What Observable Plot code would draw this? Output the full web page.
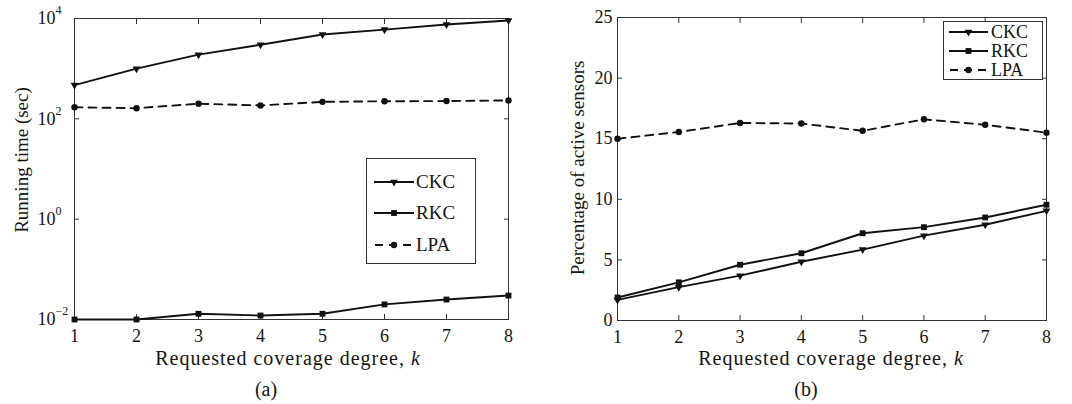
<!DOCTYPE html>
<html><head><meta charset="utf-8">
<script src="https://cdn.jsdelivr.net/npm/d3@7"></script>
<script src="https://cdn.jsdelivr.net/npm/@observablehq/plot@0.6"></script>
<style>
body{margin:0;background:#fff;font-family:"Liberation Serif","DejaVu Serif","Times New Roman",serif;color:#151515}
#wrap{position:relative;width:1072px;height:404px;overflow:hidden;background:#fff}
.panel{position:absolute;top:0}
.lbl{position:absolute;white-space:nowrap;transform:translate(-50%,-50%);font-size:20px;line-height:1}
.xl{letter-spacing:1px}
.ylbl{position:absolute;white-space:nowrap;transform:translate(-50%,-50%) rotate(-90deg);font-size:19px;line-height:1}
.legend{position:absolute;border:1px solid #333;background:#fff;box-sizing:border-box}
.row{position:absolute;left:0;height:18px;transform:translateY(-50%)}
.row svg{position:absolute;top:2px}
.row span{position:absolute;top:0;line-height:18px}
</style></head><body><div id="wrap"></div>
<script>
// ---- data ----
const k = [1, 2, 3, 4, 5, 6, 7, 8];
const seriesNames = ["CKC", "RKC", "LPA"];
const timeCKC = [470, 1000, 1900, 3000, 4800, 6000, 7600, 9100];
const timeRKC = [0.010, 0.010, 0.013, 0.012, 0.013, 0.020, 0.025, 0.030];
const timeLPA = [170, 163, 200, 185, 218, 224, 226, 233];
const pctCKC = [1.7, 2.75, 3.7, 4.85, 5.85, 7.0, 7.9, 9.05];
const pctRKC = [1.9, 3.15, 4.6, 5.55, 7.2, 7.7, 8.5, 9.55];
const pctLPA = [15.0, 15.55, 16.3, 16.25, 15.65, 16.6, 16.15, 15.5];
const logTicks = [1e-2, 1e0, 1e2, 1e4];
const logExponents = ["\u22122", "0", "2", "4"];
const linTicks = [0, 5, 10, 15, 20, 25];
const xLabelText = "Requested coverage degree, ";
const yLabelA = "Running time (sec)";
const yLabelB = "Percentage of active sensors";
const captions = ["(a)", "(b)"];

// ---- styles ----
const styles = {
  CKC: {dash: null, symbol: "triangle", r: 2.9, rotate: 180},
  RKC: {dash: null, symbol: "square", r: 3.3, rotate: 0},
  LPA: {dash: "8,6", symbol: "circle", r: 3.2, rotate: 0}
};
const font = {fontFamily: "'Liberation Serif', 'DejaVu Serif', serif", fontSize: "18px", color: "#151515", background: "white", overflow: "visible"};

function seriesMarks(vals) {
  const marks = [];
  seriesNames.forEach((s, i) => {
    const rows = k.map((x, j) => ({k: x, v: vals[i][j]}));
    const st = styles[s];
    marks.push(Plot.line(rows, {x: "k", y: "v", stroke: "#111", strokeWidth: 1.9, strokeDasharray: st.dash}));
    marks.push(Plot.dot(rows, {x: "k", y: "v", symbol: st.symbol, r: st.r, rotate: st.rotate, fill: "#111", stroke: "none"}));
  });
  return marks;
}

const tickStyle = {stroke: "#333", strokeWidth: 1};

const plotA = Plot.plot({
  width: 536, height: 404,
  marginLeft: 74, marginRight: 28, marginTop: 18, marginBottom: 85,
  style: font,
  x: {domain: [1, 8]},
  y: {type: "log", domain: [1e-2, 1e4]},
  marks: [
    Plot.frame({stroke: "#333"}),
    Plot.axisX({ticks: k, tickSize: -5, tickPadding: 15, tickFormat: d => d, label: null, ...tickStyle}),
    Plot.axisX({anchor: "top", ticks: k, tickSize: -5, tickFormat: () => "", label: null, ...tickStyle}),
    Plot.axisY({ticks: logTicks, tickSize: -5, tickFormat: () => "", label: null, ...tickStyle}),
    Plot.axisY({anchor: "right", ticks: logTicks, tickSize: -5, tickFormat: () => "", label: null, ...tickStyle}),
    Plot.text(logTicks, {y: d => d, text: () => "10", frameAnchor: "left", textAnchor: "start", dx: -37, fill: "#151515"}),
    Plot.text(logTicks, {y: d => d, text: (d, i) => logExponents[i], frameAnchor: "left", textAnchor: "start", dx: -19, dy: -8, fontSize: 12, fill: "#151515"}),
    ...seriesMarks([timeCKC, timeRKC, timeLPA])
  ]
});

const plotB = Plot.plot({
  width: 536, height: 404,
  marginLeft: 81, marginRight: 26, marginTop: 17, marginBottom: 84,
  style: font,
  x: {domain: [1, 8]},
  y: {domain: [0, 25]},
  marks: [
    Plot.frame({stroke: "#333"}),
    Plot.axisX({ticks: k, tickSize: -5, tickPadding: 15, tickFormat: d => d, label: null, ...tickStyle}),
    Plot.axisX({anchor: "top", ticks: k, tickSize: -5, tickFormat: () => "", label: null, ...tickStyle}),
    Plot.axisY({ticks: linTicks, tickSize: -5, tickPadding: 10, tickFormat: d => d, label: null, ...tickStyle}),
    Plot.axisY({anchor: "right", ticks: linTicks, tickSize: -5, tickFormat: () => "", label: null, ...tickStyle}),
    ...seriesMarks([pctCKC, pctRKC, pctLPA])
  ]
});

const wrap = document.getElementById("wrap");
plotA.classList.add("panel"); plotA.style.left = "0px";
plotB.classList.add("panel"); plotB.style.left = "536px";
wrap.appendChild(plotA); wrap.appendChild(plotB);

function addDiv(cls, html, x, y) {
  const d = document.createElement("div");
  d.className = cls; d.innerHTML = html;
  d.style.left = x + "px"; d.style.top = y + "px";
  wrap.appendChild(d); return d;
}
addDiv("lbl xl", xLabelText + "<i>k</i>", 288, 358);
addDiv("lbl xl", xLabelText + "<i>k</i>", 831, 358);
addDiv("lbl", captions[0], 266, 389);
addDiv("lbl", captions[1], 806, 389);
addDiv("ylbl", yLabelA, 21, 160);
addDiv("ylbl", yLabelB, 577, 168);

function sampleSVG(name, w) {
  const st = styles[name];
  const size = Math.PI * st.r * st.r;
  const sym = {triangle: d3.symbolTriangle, square: d3.symbolSquare, circle: d3.symbolCircle}[st.symbol];
  const path = d3.symbol(sym, size)();
  return `<svg width="${w}" height="14" style="overflow:visible">` +
    `<line x1="0" x2="${w}" y1="7" y2="7" stroke="#111" stroke-width="1.9" ${st.dash ? `stroke-dasharray="${st.dash}" stroke-dashoffset="-1"` : ""}/>` +
    `<path d="${path}" transform="translate(${w / 2},7) rotate(${st.rotate})" fill="#111"/></svg>`;
}
function legend(x, y, w, h, rowYs, sx, sw, tx, fs) {
  const lg = addDiv("legend", "", x, y);
  lg.style.width = w + "px"; lg.style.height = h + "px";
  seriesNames.forEach((s, i) => {
    const r = document.createElement("div");
    r.className = "row"; r.style.top = rowYs[i] + "px"; r.style.width = w + "px";
    r.innerHTML = `<div style="position:absolute;left:${sx}px;top:0">${sampleSVG(s, sw)}</div><span style="left:${tx}px;font-size:${fs}px">${s}</span>`;
    lg.appendChild(r);
  });
}
legend(366, 158, 110, 106, [23, 54, 86], 7, 40, 49, 19);
legend(943, 21, 100, 59, [10, 29, 48], 5, 39, 47, 18);
</script></body></html>
